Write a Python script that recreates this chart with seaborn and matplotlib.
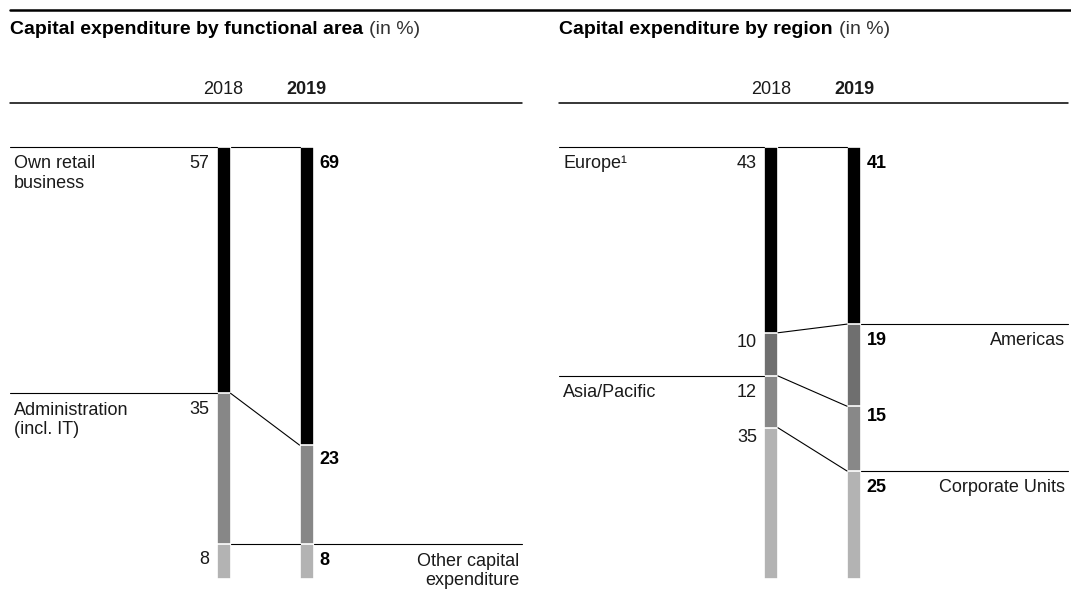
import numpy as np
import pandas as pd
import matplotlib.pyplot as plt
import seaborn as sns
from matplotlib.lines import Line2D

years = ["2018", "2019"]

area_names = ["Own retail\nbusiness", "Administration\n(incl. IT)", "Other capital\nexpenditure"]
area_2018 = [57, 35, 8]
area_2019 = [69, 23, 8]

region_names = ["Europe¹", "Americas", "Asia/Pacific", "Corporate Units"]
region_2018 = [43, 10, 12, 35]
region_2019 = [41, 19, 15, 25]

# styling
area_colors = ["#000000", "#878787", "#b3b3b3"]
area_sides = ["left", "left", "right"]
region_colors = ["#000000", "#6f6f6f", "#888888", "#b3b3b3"]
region_sides = ["left", "right", "left", "right"]

sns.set_style("white")
plt.rcParams['font.family'] = ['Liberation Sans', 'DejaVu Sans']
TXT = "#1a1a1a"
FS = 13

W, H = 1071, 613
fig = plt.figure(figsize=(W / 100, H / 100), dpi=100)

BAR_W = 14 / 83
BIG, SMALL = -5.6, -1.2  # label offsets (pt) below a boundary, with / without a rule beside it


def panel(px_left, px_right, bar0_center, names, v18, v19, colors, sides, small_gap):
    ax = fig.add_axes([px_left / W, 1 - 579 / H, (px_right - px_left) / W, 432 / H])
    c18 = np.cumsum(v18)
    c19 = np.cumsum(v19)
    # stacked bars: draw cumulative layers from the bottom one up
    for k in range(len(names) - 1, -1, -1):
        df = pd.DataFrame({"year": years, "value": [c18[k], c19[k]]})
        sns.barplot(data=df, x="year", y="value", color=colors[k], width=BAR_W,
                    edgecolor="white", linewidth=1.2, saturation=1, ax=ax)
    x0 = -(bar0_center - px_left) / 83
    x1 = 1 + (px_right - (bar0_center + 83)) / 83
    ax.set_xlim(x0, x1)
    ax.set_ylim(100, 0)
    ax.set_ylabel("")
    ax.set_xlabel("")
    ax.set_yticks([])
    sns.despine(ax=ax, left=True, bottom=True, top=True, right=True)
    ax.xaxis.set_ticks_position("top")
    ax.tick_params(axis="x", length=0, pad=35, labelsize=FS, labelcolor=TXT)
    ax.get_xticklabels()[1].set_fontweight("bold")

    hw = BAR_W / 2
    tops18 = np.concatenate([[0], c18[:-1]])
    tops19 = np.concatenate([[0], c19[:-1]])
    lk = dict(color="black", lw=0.8, clip_on=False)
    for k, name in enumerate(names):
        a, b = tops18[k], tops19[k]
        ax.plot([hw, 1 - hw], [a, b], **lk)
        if sides[k] == "left":
            ax.plot([x0, -hw], [a, a], **lk)
            ax.annotate(name, xy=(x0, a), xytext=(3, -6), textcoords="offset points",
                        ha="left", va="top", fontsize=FS, color=TXT, linespacing=1.17)
        else:
            ax.plot([1 + hw, x1], [b, b], **lk)
            ax.annotate(name, xy=(x1, b), xytext=(-2, -6), textcoords="offset points",
                        ha="right", va="top", fontsize=FS, color=TXT, linespacing=1.17)
        off18 = BIG if (k == 0 or sides[k] == "left") else small_gap
        off19 = BIG if (k == 0 or sides[k] == "right") else small_gap
        ax.annotate(str(v18[k]), xy=(-hw, a), xytext=(-5, off18), textcoords="offset points",
                    ha="right", va="top", fontsize=FS, color=TXT)
        ax.annotate(str(v19[k]), xy=(1 + hw, b), xytext=(4, off19), textcoords="offset points",
                    ha="left", va="top", fontsize=FS, color="black", fontweight="bold")
    # header rule under the years
    fig.add_artist(Line2D([px_left / W, px_right / W], [1 - 102.5 / H] * 2,
                          color="black", lw=1.1, transform=fig.transFigure))
    return ax


panel(10, 522, 223.5, area_names, area_2018, area_2019, area_colors, area_sides, -4.5)
panel(559, 1068, 771, region_names, region_2018, region_2019, region_colors, region_sides, SMALL)

# top rule
fig.add_artist(Line2D([10 / W, 1], [1 - 10 / H] * 2, color="black", lw=1.8,
                      transform=fig.transFigure))

renderer = fig.canvas.get_renderer()
for px, title in [(10, "Capital expenditure by functional area"), (559, "Capital expenditure by region")]:
    t = fig.text(px / W, 1 - 30 / H, title, fontsize=14, fontweight="bold",
                 color="black", va="center", ha="left")
    bb = t.get_window_extent(renderer)
    fig.text((bb.x1 + 6) / W, 1 - 30 / H, "(in %)", fontsize=14, color="#333333",
             va="center", ha="left")

fig.savefig("out.png", dpi=100)
